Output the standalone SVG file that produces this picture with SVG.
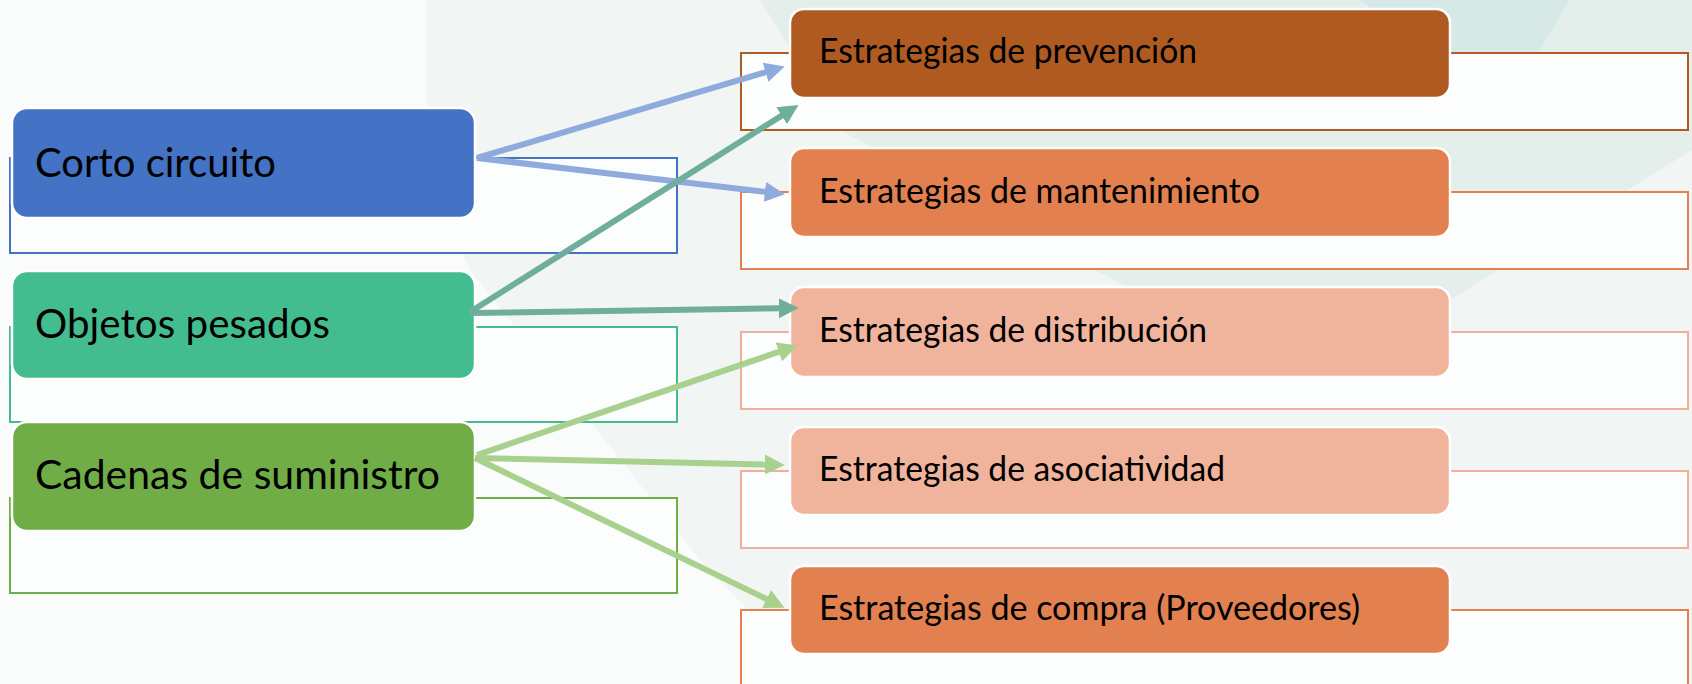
<svg xmlns="http://www.w3.org/2000/svg" width="1692" height="684" viewBox="0 0 1692 684">
<style>
.lbl{font-family:Lato,"Liberation Sans",sans-serif;fill:#000;}
.big{font-size:41px;}
.sm{font-size:34px;}
.box{stroke:#ffffff;stroke-width:2.5;}
.ol{fill:#FCFDFD;stroke-width:2;}
.cn{fill:none;stroke-width:6;stroke-linecap:butt;}
</style>
<defs>
<marker id="ah-blue" markerUnits="userSpaceOnUse" markerWidth="20" markerHeight="20" viewBox="0 0 18 18" refX="2" refY="9" orient="auto"><path d="M0,0 L18,9 L0,18 z" fill="#8FAADC"/></marker>
<marker id="ah-teal" markerUnits="userSpaceOnUse" markerWidth="20" markerHeight="20" viewBox="0 0 18 18" refX="2" refY="9" orient="auto"><path d="M0,0 L18,9 L0,18 z" fill="#6FAE9B"/></marker>
<marker id="ah-green" markerUnits="userSpaceOnUse" markerWidth="20" markerHeight="20" viewBox="0 0 18 18" refX="2" refY="9" orient="auto"><path d="M0,0 L18,9 L0,18 z" fill="#A9D18E"/></marker>
</defs>
<g id="background">
<rect x="0" y="0" width="1692" height="684" fill="#FAFBFB"/>
<polygon points="427,0 1692,0 1692,684 820,684 700,560 470,270 427,180" fill="#F1F6F4"/>
<polygon points="760,0 1692,0 1692,150 1450,300 1150,300 840,130" fill="#E4EFEC"/>
<polygon points="1360,0 1570,0 1505,108" fill="#D6E9E6"/>
</g>
<g id="node-corto">
<rect class="ol" x="10" y="158" width="667" height="95" stroke="#4472C4"/>
<rect class="box" x="12" y="108" width="463" height="110" rx="15" fill="#4472C4"/>
<text class="lbl big" x="35" y="177" textLength="241" lengthAdjust="spacingAndGlyphs">Corto circuito</text>
</g>
<g id="node-objetos">
<rect class="ol" x="10" y="327" width="667" height="95" stroke="#43BC8F"/>
<rect class="box" x="12" y="271" width="463" height="108" rx="15" fill="#43BC8F"/>
<text class="lbl big" x="35" y="338" textLength="295" lengthAdjust="spacingAndGlyphs">Objetos pesados</text>
</g>
<g id="node-cadenas">
<rect class="ol" x="10" y="498" width="667" height="95" stroke="#70AD47"/>
<rect class="box" x="12" y="422" width="463" height="109" rx="15" fill="#70AD47"/>
<text class="lbl big" x="35" y="489" textLength="405" lengthAdjust="spacingAndGlyphs">Cadenas de suministro</text>
</g>
<g id="node-prevencion">
<rect class="ol" x="741" y="53" width="947" height="77" stroke="#AE5A21"/>
<rect class="box" x="790" y="9" width="660" height="89" rx="14" fill="#AE5A21"/>
<text class="lbl sm" x="819" y="63" textLength="378" lengthAdjust="spacingAndGlyphs">Estrategias de prevención</text>
</g>
<g id="node-mantenimiento">
<rect class="ol" x="741" y="192" width="947" height="77" stroke="#E2804F"/>
<rect class="box" x="790" y="148" width="660" height="89" rx="14" fill="#E2804F"/>
<text class="lbl sm" x="819" y="203" textLength="441" lengthAdjust="spacingAndGlyphs">Estrategias de mantenimiento</text>
</g>
<g id="node-distribucion">
<rect class="ol" x="741" y="332" width="947" height="77" stroke="#F2AE96"/>
<rect class="box" x="790" y="287" width="660" height="90" rx="14" fill="#F0B39B"/>
<text class="lbl sm" x="819" y="342" textLength="388" lengthAdjust="spacingAndGlyphs">Estrategias de distribución</text>
</g>
<g id="node-asociatividad">
<rect class="ol" x="741" y="471" width="947" height="77" stroke="#F2AE96"/>
<rect class="box" x="790" y="427" width="660" height="88" rx="14" fill="#F0B39B"/>
<text class="lbl sm" x="819" y="481" textLength="406" lengthAdjust="spacingAndGlyphs">Estrategias de asociatividad</text>
</g>
<g id="node-compra">
<rect class="ol" x="741" y="610" width="947" height="80" stroke="#E2804F"/>
<rect class="box" x="790" y="566" width="660" height="88" rx="14" fill="#E2804F"/>
<text class="lbl sm" x="819" y="620" textLength="541" lengthAdjust="spacingAndGlyphs">Estrategias de compra (Proveedores)</text>
</g>
<g id="connectors">
<line class="cn" x1="477" y1="158" x2="767.7" y2="71.6" stroke="#8FAADC" marker-end="url(#ah-blue)"/>
<line class="cn" x1="477" y1="158" x2="767.1" y2="192.1" stroke="#8FAADC" marker-end="url(#ah-blue)"/>
<line class="cn" x1="470" y1="312" x2="783.5" y2="114.5" stroke="#6FAE9B" marker-end="url(#ah-teal)"/>
<line class="cn" x1="470" y1="313" x2="781" y2="308.2" stroke="#6FAE9B" marker-end="url(#ah-teal)"/>
<line class="cn" x1="477" y1="455" x2="780.9" y2="351.2" stroke="#A9D18E" marker-end="url(#ah-green)"/>
<line class="cn" x1="475" y1="458" x2="767" y2="464.6" stroke="#A9D18E" marker-end="url(#ah-green)"/>
<line class="cn" x1="475" y1="458" x2="768.6" y2="600" stroke="#A9D18E" marker-end="url(#ah-green)"/>
</g>
</svg>
